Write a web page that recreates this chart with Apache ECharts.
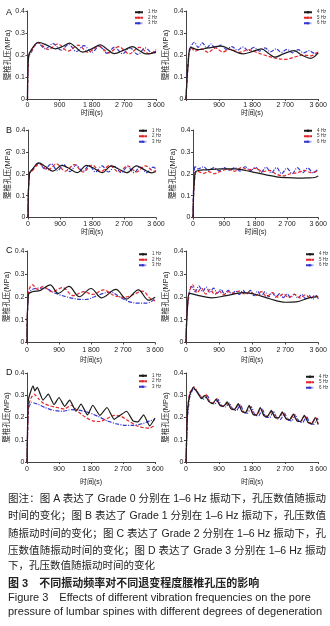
<!DOCTYPE html>
<html>
<head>
<meta charset="utf-8">
<script src="https://cdn.jsdelivr.net/npm/echarts@6/dist/echarts.min.js"></script>
<style>
html, body { margin: 0; padding: 0; background: #fff; }
#chart { position: absolute; left: 0; top: 0; width: 330px; height: 492px; }
.cap {
  position: absolute; left: 8px; width: 318px;
  font-family: "Liberation Sans", "Noto Sans CJK SC", sans-serif;
  font-size: 10.5px; line-height: 14px; color: #222; white-space: nowrap;
}
.j { text-align: justify; text-align-last: justify; }
.b { font-weight: bold; font-size: 11px; }
.en { font-size: 11px; }
</style>
</head>
<body>
<div id="chart"></div>
<div class="cap j" style="top:491px">图注：图 A 表达了 Grade 0 分别在 1–6 Hz 振动下，孔压数值随振动</div>
<div class="cap j" style="top:508px">时间的变化；图 B 表达了 Grade 1 分别在 1–6 Hz 振动下，孔压数值</div>
<div class="cap j" style="top:526px">随振动时间的变化；图 C 表达了 Grade 2 分别在 1–6 Hz 振动下，孔</div>
<div class="cap j" style="top:543px">压数值随振动时间的变化；图 D 表达了 Grade 3 分别在 1–6 Hz 振动</div>
<div class="cap" style="top:558px">下，孔压数值随振动时间的变化</div>
<div class="cap b" style="top:576px">图 3　不同振动频率对不同退变程度腰椎孔压的影响</div>
<div class="cap en" style="top:590px">Figure 3　Effects of different vibration frequencies on the pore</div>
<div class="cap en" style="top:604px">pressure of lumbar spines with different degrees of degeneration</div>

<script>
const xTicks = [0, 900, 1800, 2700, 3600]
const yTicks = [0, 0.1, 0.2, 0.3, 0.4]
const namesLow = ['1 Hz', '2 Hz', '3 Hz']
const namesHigh = ['4 Hz', '5 Hz', '6 Hz']
const letters = ['A', 'B', 'C', 'D']

// Grade 0 (A)
const a1 = [[0,0],[30,0.195],[100,0.222],[310,0.258],[540,0.245],[780,0.228],[1000,0.24],[1180,0.254],[1350,0.235],[1540,0.213],[1800,0.228],[2040,0.246],[2240,0.225],[2430,0.206],[2700,0.222],[2940,0.238],[3120,0.222],[3320,0.205],[3600,0.212]]
const a2 = [[0,0],[30,0.19],[100,0.215],[300,0.255],[580,0.225],[850,0.25],[1140,0.218],[1420,0.245],[1700,0.212],[1990,0.24],[2280,0.21],[2560,0.238],[2850,0.205],[3130,0.235],[3420,0.205],[3600,0.225]]
const a3 = [[0,0],[30,0.19],[100,0.212],[290,0.255],[500,0.228],[720,0.252],[940,0.222],[1150,0.248],[1370,0.216],[1580,0.243],[1800,0.212],[2010,0.24],[2230,0.208],[2440,0.236],[2660,0.206],[2870,0.232],[3090,0.203],[3300,0.232],[3500,0.21],[3600,0.218]]
const a4 = [[0,0],[60,0.16],[130,0.235],[330,0.224],[600,0.232],[950,0.24],[1250,0.222],[1550,0.205],[1800,0.215],[2050,0.228],[2250,0.207],[2420,0.19],[2650,0.205],[2940,0.22],[3150,0.2],[3390,0.185],[3600,0.21]]
const a5 = [[0,0],[60,0.16],[130,0.235],[250,0.218],[420,0.228],[600,0.212],[800,0.232],[1000,0.214],[1200,0.226],[1450,0.212],[1700,0.224],[1950,0.21],[2200,0.196],[2450,0.185],[2700,0.18],[2950,0.19],[3200,0.2],[3400,0.196],[3600,0.215]]
const a6 = [[0,0],[60,0.18],[130,0.235],[230,0.258],[330,0.235],[450,0.255],[560,0.232],[680,0.25],[800,0.23],[950,0.245],[1100,0.226],[1250,0.238],[1400,0.222],[1550,0.236],[1700,0.22],[1850,0.235],[2000,0.218],[2150,0.232],[2300,0.214],[2450,0.228],[2600,0.212],[2750,0.226],[2900,0.21],[3050,0.224],[3200,0.21],[3350,0.22],[3500,0.208],[3600,0.212]]

// Grade 1 (B)
const b1 = [[0,0],[40,0.2],[130,0.222],[300,0.25],[500,0.232],[700,0.212],[950,0.238],[1150,0.225],[1380,0.205],[1650,0.238],[1850,0.225],[2080,0.205],[2350,0.236],[2550,0.222],[2780,0.205],[3050,0.236],[3250,0.22],[3480,0.204],[3600,0.21]]
const b2 = [[0,0],[40,0.2],[130,0.215],[320,0.245],[560,0.218],[800,0.245],[1050,0.212],[1300,0.242],[1550,0.208],[1800,0.24],[2050,0.21],[2300,0.238],[2550,0.208],[2800,0.236],[3050,0.208],[3300,0.236],[3550,0.212],[3600,0.215]]
const b3 = [[0,0],[40,0.2],[130,0.22],[300,0.248],[480,0.222],[650,0.245],[830,0.214],[1000,0.242],[1180,0.21],[1360,0.24],[1540,0.21],[1720,0.238],[1900,0.208],[2080,0.236],[2260,0.208],[2440,0.234],[2620,0.205],[2800,0.232],[2980,0.205],[3160,0.232],[3340,0.205],[3520,0.23],[3600,0.222]]
const b4 = [[0,0],[60,0.205],[150,0.215],[400,0.218],[800,0.222],[1200,0.222],[1500,0.215],[1800,0.205],[2100,0.195],[2400,0.186],[2700,0.182],[3000,0.18],[3300,0.181],[3500,0.183],[3600,0.19]]
const b5 = [[0,0],[60,0.2],[150,0.21],[300,0.202],[450,0.21],[600,0.2],[800,0.212],[1000,0.22],[1200,0.212],[1400,0.228],[1600,0.218],[1800,0.225],[2000,0.21],[2200,0.215],[2400,0.198],[2600,0.19],[2800,0.2],[3000,0.205],[3200,0.215],[3400,0.205],[3600,0.215]]
const b6 = [[0,0],[60,0.235],[150,0.222],[300,0.232],[450,0.215],[600,0.228],[750,0.214],[900,0.228],[1050,0.215],[1200,0.228],[1350,0.212],[1500,0.232],[1650,0.214],[1800,0.23],[1950,0.205],[2100,0.23],[2250,0.204],[2400,0.228],[2550,0.2],[2700,0.226],[2850,0.2],[3000,0.228],[3150,0.204],[3300,0.226],[3450,0.204],[3600,0.222]]

// Grade 2 (C)
const c1 = [[0,0],[40,0.21],[150,0.222],[380,0.228],[650,0.252],[880,0.215],[1180,0.245],[1470,0.2],[1800,0.236],[2100,0.195],[2500,0.232],[2800,0.19],[3130,0.23],[3420,0.185],[3600,0.198]]
const c2 = [[0,0],[40,0.22],[160,0.252],[300,0.232],[450,0.245],[700,0.222],[1000,0.24],[1300,0.205],[1600,0.222],[1850,0.21],[2150,0.23],[2450,0.205],[2750,0.198],[3000,0.21],[3250,0.225],[3450,0.195],[3600,0.182]]
const c3 = [[0,0],[40,0.21],[150,0.232],[350,0.238],[550,0.235],[800,0.215],[1100,0.2],[1400,0.19],[1650,0.188],[1900,0.2],[2150,0.215],[2350,0.22],[2600,0.2],[2850,0.18],[3100,0.172],[3350,0.172],[3550,0.185],[3600,0.198]]
const c4 = [[0,0],[40,0.15],[100,0.215],[350,0.205],[700,0.195],[1100,0.205],[1550,0.218],[1900,0.21],[2300,0.19],[2700,0.176],[3000,0.178],[3350,0.195],[3600,0.2]]
const c5 = [[0,0],[50,0.17],[180,0.252],[300,0.218],[420,0.238],[540,0.212],[660,0.232],[780,0.21],[900,0.226],[1020,0.208],[1150,0.222],[1300,0.215],[1450,0.225],[1600,0.212],[1750,0.222],[1900,0.205],[2050,0.222],[2200,0.2],[2350,0.218],[2500,0.198],[2650,0.212],[2800,0.196],[2950,0.21],[3100,0.195],[3250,0.208],[3400,0.194],[3500,0.205],[3600,0.196]]
const c6 = [[0,0],[50,0.18],[150,0.245],[250,0.222],[350,0.248],[450,0.222],[550,0.242],[650,0.218],[750,0.238],[850,0.215],[950,0.232],[1050,0.212],[1150,0.228],[1250,0.212],[1350,0.225],[1450,0.21],[1550,0.228],[1650,0.212],[1750,0.228],[1850,0.205],[1950,0.224],[2050,0.202],[2150,0.222],[2250,0.2],[2350,0.218],[2450,0.198],[2550,0.214],[2650,0.196],[2750,0.212],[2850,0.196],[2950,0.212],[3050,0.194],[3150,0.21],[3250,0.192],[3350,0.206],[3450,0.19],[3550,0.205],[3600,0.19]]

// Grade 3 (D)
const d1 = [[0,0],[40,0.28],[170,0.342],[220,0.32],[290,0.335],[450,0.278],[600,0.305],[760,0.258],[900,0.29],[1060,0.25],[1200,0.278],[1380,0.228],[1520,0.26],[1700,0.212],[1850,0.255],[2050,0.21],[2250,0.245],[2450,0.192],[2620,0.21],[2800,0.228],[2980,0.185],[3120,0.18],[3280,0.212],[3450,0.162],[3600,0.198]]
const d2 = [[0,0],[40,0.25],[120,0.29],[200,0.305],[320,0.285],[450,0.265],[650,0.252],[850,0.245],[1050,0.238],[1250,0.255],[1450,0.225],[1650,0.2],[1850,0.185],[2050,0.182],[2250,0.195],[2450,0.21],[2650,0.205],[2850,0.185],[3050,0.165],[3250,0.155],[3450,0.152],[3600,0.165]]
const d3 = [[0,0],[40,0.24],[130,0.268],[300,0.26],[500,0.245],[750,0.232],[1000,0.228],[1250,0.235],[1500,0.232],[1750,0.222],[2000,0.205],[2250,0.185],[2500,0.172],[2750,0.165],[3000,0.165],[3250,0.172],[3450,0.185],[3600,0.19]]
const d4 = [[0,0],[40,0.22],[100,0.3],[200,0.335],[320,0.31],[420,0.285],[520,0.3],[620,0.272],[720,0.262],[820,0.282],[920,0.255],[1020,0.25],[1120,0.27],[1220,0.24],[1320,0.235],[1420,0.262],[1520,0.228],[1620,0.222],[1720,0.255],[1820,0.215],[1920,0.21],[2020,0.245],[2120,0.208],[2220,0.205],[2320,0.232],[2420,0.2],[2520,0.198],[2620,0.225],[2720,0.195],[2820,0.19],[2920,0.215],[3020,0.185],[3120,0.182],[3220,0.21],[3320,0.178],[3420,0.172],[3520,0.2],[3600,0.168]]
const d5 = [[0,0],[40,0.23],[100,0.31],[220,0.338],[340,0.305],[440,0.29],[540,0.305],[640,0.27],[740,0.265],[840,0.285],[940,0.252],[1040,0.252],[1140,0.268],[1240,0.238],[1340,0.24],[1440,0.258],[1540,0.225],[1640,0.225],[1740,0.25],[1840,0.212],[1940,0.215],[2040,0.24],[2140,0.205],[2240,0.208],[2340,0.228],[2440,0.198],[2540,0.2],[2640,0.222],[2740,0.192],[2840,0.192],[2940,0.215],[3040,0.182],[3140,0.185],[3240,0.21],[3340,0.176],[3440,0.178],[3540,0.2],[3600,0.172]]
const d6 = [[0,0],[40,0.2],[100,0.29],[200,0.33],[280,0.32],[380,0.3],[480,0.282],[580,0.298],[680,0.268],[780,0.26],[880,0.28],[980,0.25],[1080,0.248],[1180,0.265],[1280,0.235],[1380,0.232],[1480,0.258],[1580,0.222],[1680,0.22],[1780,0.248],[1880,0.21],[1980,0.208],[2080,0.238],[2180,0.2],[2280,0.2],[2380,0.228],[2480,0.195],[2580,0.192],[2680,0.22],[2780,0.188],[2880,0.185],[2980,0.212],[3080,0.18],[3180,0.178],[3280,0.205],[3380,0.172],[3480,0.17],[3580,0.195],[3600,0.19]]

const colors = ['#1c1c1c', '#e3262b', '#3535d0']
const dashes = ['solid', [3.5, 1.8], [4, 1.4, 1, 1.4]]
const font = '"Liberation Sans", "Noto Sans CJK SC", sans-serif'

// 每行：左图 1-3 Hz，右图 4-6 Hz
const panels = [
  { data: [a1, a2, a3], names: namesLow, grid: [27.5, 11, 128.5, 88], lg: [134, 10], gap: [2.5, 11], smooth: 0.35 },
  { data: [a4, a5, a6], names: namesHigh, grid: [186, 11, 135, 88], lg: [303, 10], gap: [2.5, 11], smooth: 0.35, hideZero: true },
  { data: [b1, b2, b3], names: namesLow, grid: [28, 130, 128, 87.5], lg: [138, 128.5], gap: [3, 11], smooth: 0.35 },
  { data: [b4, b5, b6], names: namesHigh, grid: [193, 130, 128, 87.5], lg: [303, 128.5], gap: [3, 11], smooth: 0.35 },
  { data: [c1, c2, c3], names: namesLow, grid: [27, 251, 128, 91.5], lg: [138, 252], gap: [4, 14], smooth: 0.35 },
  { data: [c4, c5, c6], names: namesHigh, grid: [186, 251, 135, 91.5], lg: [305, 252], gap: [4, 14], smooth: 0.35 },
  { data: [d1, d2, d3], names: namesLow, grid: [27, 373, 128, 89], lg: [138, 373.5], gap: [4, 17], smooth: 0.15 },
  { data: [d4, d5, d6], names: namesHigh, grid: [186, 373, 133, 89], lg: [305, 374.5], gap: [4, 17], smooth: 0.15 }
]

const letterPos = [[6, 8], [6, 126], [6, 246], [6, 368]]

const fmtX = v => String(v).replace(/\B(?=(\d{3})+(?!\d))/g, ' ')

const option = {
  animation: false,
  textStyle: { fontFamily: font },
  grid: [], xAxis: [], yAxis: [], series: [], legend: [], graphic: []
}

panels.forEach((p, i) => {
  const [left, top, width, height] = p.grid
  option.grid.push({ left, top, width, height })
  option.xAxis.push({
    type: 'value', gridIndex: i,
    min: xTicks[0], max: xTicks[xTicks.length - 1], interval: xTicks[1] - xTicks[0],
    name: '时间(s)', nameLocation: 'middle', nameGap: p.gap[1],
    nameTextStyle: { fontSize: 7, color: '#222' },
    axisLine: { lineStyle: { color: '#444', width: 1 } },
    axisTick: { show: true, length: 2, lineStyle: { color: '#444' } },
    axisLabel: {
      fontSize: 7, color: '#222', margin: p.gap[0], showMaxLabel: true, showMinLabel: true,
      formatter: v => (p.hideZero && v === 0) ? '' : fmtX(v)
    },
    splitLine: { show: false }
  })
  option.yAxis.push({
    type: 'value', gridIndex: i,
    min: yTicks[0], max: yTicks[yTicks.length - 1], interval: yTicks[1] - yTicks[0],
    name: '腰椎孔压(MPa)', nameLocation: 'middle', nameGap: 14,
    nameTextStyle: { fontSize: 7.5, color: '#222' },
    axisLine: { show: true, lineStyle: { color: '#444', width: 1 } },
    axisTick: { show: true, length: 2, lineStyle: { color: '#444' } },
    axisLabel: { fontSize: 7, color: '#222', margin: 2.5, formatter: v => v === 0 ? '0' : v.toFixed(1) },
    splitLine: { show: false }
  })
  p.data.forEach((d, k) => {
    option.series.push({
      name: p.names[k], type: 'line', xAxisIndex: i, yAxisIndex: i,
      data: d, symbol: 'none', smooth: p.smooth,
      lineStyle: { color: colors[k], width: 1.2, type: dashes[k] },
      itemStyle: { color: colors[k] },
      z: 3 - k
    })
  })
  option.legend.push({
    data: p.names, orient: 'vertical', left: p.lg[0], top: p.lg[1],
    padding: 0, itemWidth: 8, itemHeight: 3, itemGap: 1,
    selectedMode: false,
    textStyle: { fontSize: 4.5, color: '#333', lineHeight: 4.5 }
  })
})

letters.forEach((t, i) => {
  option.graphic.push({
    type: 'text', left: letterPos[i][0], top: letterPos[i][1],
    style: { text: t, font: '9px "Liberation Sans"', fill: '#111' }
  })
})

const chart = echarts.init(document.getElementById('chart'))
chart.setOption(option)
</script>
</body>
</html>
